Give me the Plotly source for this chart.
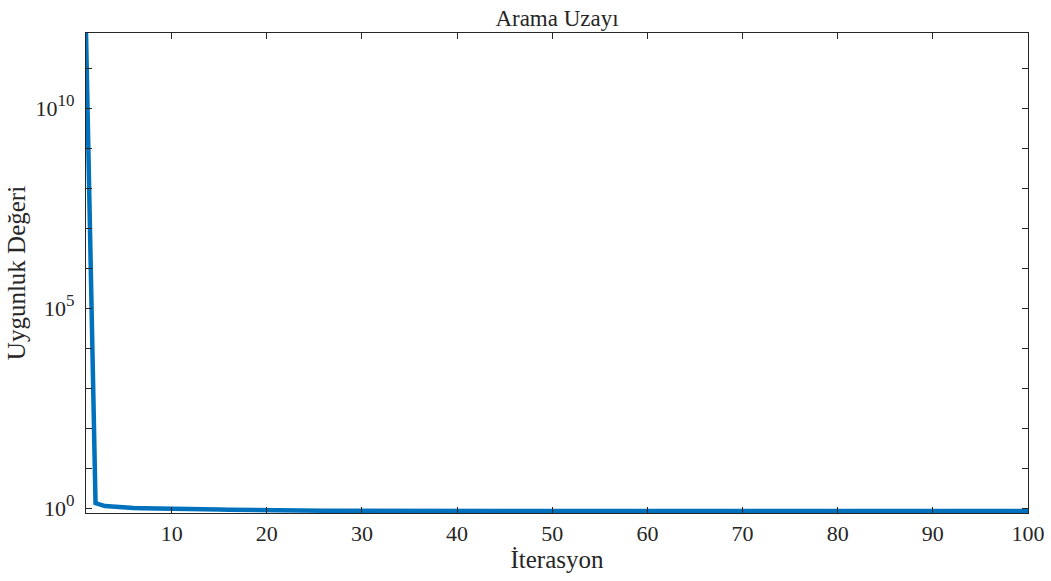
import plotly.graph_objects as go

iterations = list(range(1, 101))
fitness = ([7.5e11, 1.33, 1.12, 1.06, 1.03, 1.0, 0.98, 0.965, 0.95, 0.94,
            0.935, 0.93, 0.925, 0.92, 0.915, 0.91, 0.91, 0.905, 0.905, 0.9,
            0.9, 0.9, 0.9, 0.88, 0.86, 0.855, 0.85, 0.848, 0.846, 0.845]
           + [0.843] * 10 + [0.84] * 20 + [0.838] * 20 + [0.836] * 20)

title_text = "Arama Uzayı"
x_label = "İterasyon"
y_label = "Uygunluk Değeri"
x_ticks = [10, 20, 30, 40, 50, 60, 70, 80, 90, 100]
y_major = [0, 5, 10]
y_minor = [1, 2, 3, 4, 6, 7, 8, 9, 11]

font = "Liberation Serif, Times New Roman, serif"
ink = "#262626"

fig = go.Figure()
fig.add_trace(go.Scatter(x=iterations, y=fitness, mode="lines",
                         line=dict(color="#0072BD", width=4.5), showlegend=False))

fig.update_layout(
    width=1051, height=581,
    margin=dict(l=86, r=23, t=33, b=68),
    paper_bgcolor="white", plot_bgcolor="white",
    font=dict(family=font, size=22, color=ink),
    title=dict(text=title_text, x=0.53, xanchor="center", y=0.969, yanchor="middle",
               font=dict(family=font, size=23, color=ink)),
)
fig.update_xaxes(
    range=[1, 100], tickvals=x_ticks, ticks="inside", ticklen=6, tickwidth=1,
    tickcolor=ink, showline=True, linecolor=ink, linewidth=1.2,
    mirror="ticks", showgrid=False, zeroline=False,
    tickfont=dict(family=font, size=22, color=ink), automargin=False,
    title=dict(text=x_label, standoff=2, font=dict(family=font, size=25, color=ink)),
)
fig.update_yaxes(
    type="log", range=[-0.125, 11.875],
    tickvals=[10 ** d for d in y_major],
    ticktext=["10<sup><span style='font-size:17px'>%d</span></sup>" % d for d in y_major],
    minor=dict(tickvals=[10 ** d for d in y_minor], ticks="inside", ticklen=6,
               tickwidth=1, tickcolor=ink, showgrid=False),
    ticks="inside", ticklen=6, tickwidth=1, tickcolor=ink, ticklabelstandoff=6,
    showline=True, linecolor=ink, linewidth=1.2, mirror="ticks",
    showgrid=False, zeroline=False, automargin=False,
    tickfont=dict(family=font, size=22, color=ink),
    title=dict(text=y_label, standoff=2, font=dict(family=font, size=25, color=ink)),
)

fig.write_html("out.html")
